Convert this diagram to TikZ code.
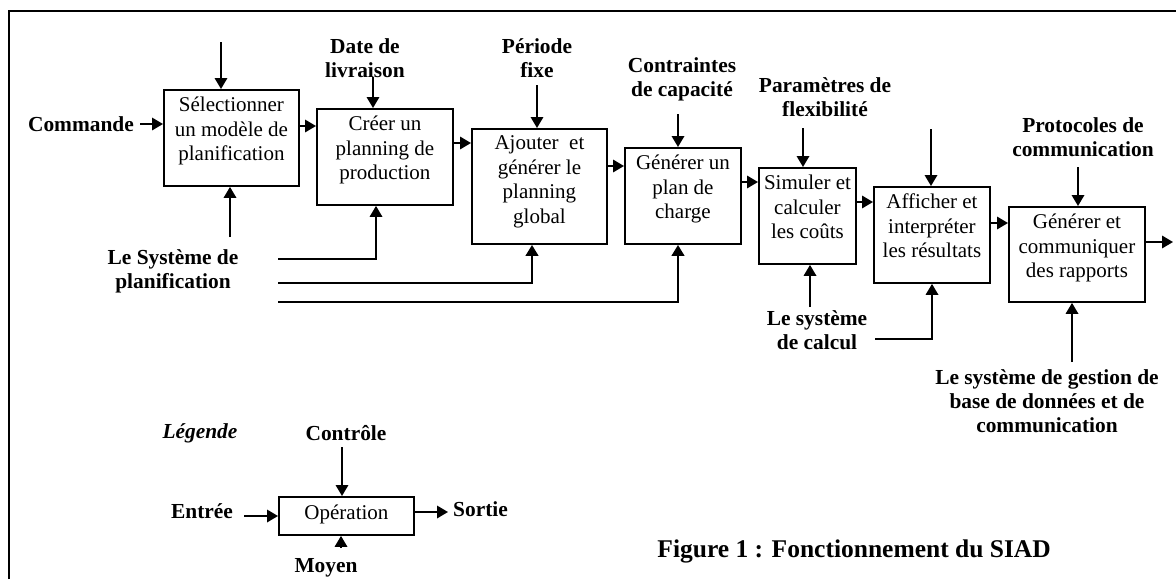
\documentclass[tikz,border=0pt]{standalone}
\usepackage{fontspec}
\setmainfont{Liberation Serif}
\usetikzlibrary{arrows.meta}
\newcommand\bxt[4]{\parbox[t][#2pt][t]{#1pt}{\centering\rule{0pt}{#3pt}#4}}
\tikzset{
  box/.style={draw, line width=1.9pt, inner sep=0pt, anchor=north west,
    font=\fontsize{21}{24.5}\selectfont},
  lbl/.style={font=\fontsize{21.4}{24}\selectfont\bfseries, align=center, inner sep=0pt},
  arr/.style={line width=1.8pt, -{Triangle[length=11pt,width=12.5pt]}},
  thk/.style={line width=2.5pt, -{Triangle[length=11pt,width=12.5pt]}},
}
\begin{document}
\begin{tikzpicture}[x=1pt,y=-1pt]
\useasboundingbox (0,0) rectangle (1176,579);
\draw[line width=1.8pt] (9,579) -- (9,11) -- (1176,11);

% boxes
\node[box] (b1) at (163,89)  {\bxt{135}{96}{22}{Sélectionner\\un modèle de\\planification}};
\node[box] (b2) at (316,108) {\bxt{136}{96}{22}{Créer un\\planning de\\production}};
\node[box] (b3) at (471,128) {\bxt{135}{115}{21}{Ajouter\ \ et\\générer le\\planning\\global}};
\node[box] (b4) at (624,147) {\bxt{116}{96}{22}{Générer un\\plan de\\charge}};
\node[box] (b5) at (758,167) {\bxt{97}{96}{22}{Simuler et\\calculer\\les coûts}};
\node[box] (b6) at (873,186) {\bxt{116}{96}{22}{Afficher et\\interpréter\\les résultats}};
\node[box] (b7) at (1008,206) {\bxt{136}{95}{22}{Générer et\\communiquer\\des rapports}};

% labels
\node[lbl] (cmd)  at (81,124)  {Commande};
\node[lbl] (sys)  at (173,271) {Le Système de\\planification};
\node[lbl] (date) at (365,58.5) {Date de\\livraison};
\node[lbl] (per)  at (537,58.5) {Période\\fixe};
\node[lbl] (con)  at (682,79)  {Contraintes\\de capacité};
\node[lbl] (par)  at (825,97.5) {Paramètres de\\flexibilité};
\node[lbl] (pro)  at (1083,137) {Protocoles de\\communication};
\node[lbl] (cal)  at (817,330.5) {Le système\\de calcul};
\node[lbl] (sgbd) at (1047,401.5) {Le système de gestion de\\base de données et de\\communication};

% control arrows
\coordinate (t1) at (221,42);  \draw[arr] (t1) -- (t1 |- b1.north);
\coordinate (t2) at (373,77);  \draw[arr] (t2) -- (t2 |- b2.north);
\coordinate (t3) at (537,85);  \draw[arr] (t3) -- (t3 |- b3.north);
\coordinate (t4) at (678,114); \draw[arr] (t4) -- (t4 |- b4.north);
\coordinate (t5) at (803,128); \draw[arr] (t5) -- (t5 |- b5.north);
\coordinate (t6) at (931,129); \draw[arr] (t6) -- (t6 |- b6.north);
\coordinate (t7) at (1078,167); \draw[arr] (t7) -- (t7 |- b7.north);

% inputs / outputs
\coordinate (i1) at (140,124); \draw[arr] (i1) -- (i1 -| b1.west);
\draw[arr] (b1.east |- 0,126) -- (b2.west |- 0,126);
\draw[arr] (b2.east |- 0,143) -- (b3.west |- 0,143);
\draw[arr] (b3.east |- 0,166) -- (b4.west |- 0,166);
\draw[arr] (b4.east |- 0,182) -- (b5.west |- 0,182);
\draw[arr] (b5.east |- 0,202) -- (b6.west |- 0,202);
\draw[arr] (b6.east |- 0,223) -- (b7.west |- 0,223);
\coordinate (o7) at (1173,242); \draw[arr] (b7.east |- o7) -- (o7);

% mechanisms
\coordinate (m1) at (230,237); \draw[arr] (m1) -- (m1 |- b1.south);
\coordinate (s1) at (278,259); \draw[arr] (s1) -| ([xshift=60pt]b2.south west);
\coordinate (s2) at (278,283); \draw[thk] (s2) -| ([xshift=61pt]b3.south west);
\coordinate (s3) at (278,302); \draw[thk] (s3) -| ([xshift=54pt]b4.south west);
\coordinate (m5) at (810,307); \draw[arr] (m5) -- (m5 |- b5.south);
\coordinate (s6) at (875,339); \draw[arr] (s6) -| ([xshift=59pt]b6.south west);
\coordinate (m7) at (1072,362); \draw[arr] (m7) -- (m7 |- b7.south);

% legend
\node[lbl, font=\fontsize{21.4}{24}\selectfont\bfseries\itshape] (leg) at (200,433) {Légende};
\node[lbl] (ctl) at (346,433) {Contrôle};
\node[box] (op) at (278,496) {\bxt{135}{38}{23}{Opération}};
\node[lbl] (ent) at (202,511) {Entrée};
\node[lbl, anchor=west] (sor) at (453,509) {Sortie};
\node[lbl] (moy) at (326,568) {Moyen};
\coordinate (lc) at (342,447); \draw[arr] (lc) -- (lc |- op.north);
\coordinate (le) at (244,516); \draw[arr] (le) -- (le -| op.west);
\coordinate (ls) at (448,512); \draw[arr] (op.east |- ls) -- (ls);
\coordinate (lm) at (341,548); \draw[arr] (lm) -- (lm |- op.south);

% caption
\node[lbl, font=\fontsize{25.5}{29}\selectfont\bfseries, anchor=east] (fig) at (1051,551) {Figure 1 : Fonctionnement du SIAD};
\end{tikzpicture}
\end{document}
